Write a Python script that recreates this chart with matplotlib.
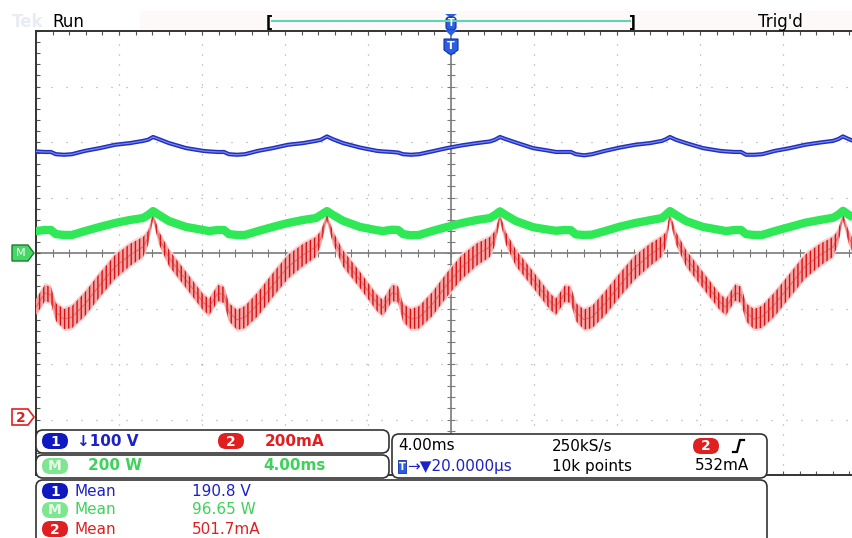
import numpy as np
import matplotlib
matplotlib.use("Agg")
import matplotlib.pyplot as plt
from matplotlib.patches import FancyBboxPatch, Polygon, Rectangle

# time axis, ms (4 ms/div, trigger at center)
t_ms = [
    -20.29, -20.00, -19.57, -19.28, -19.04, -18.65, -18.27, -17.64, -16.92, -16.19, -15.47, -14.84, -14.60,
    -14.36, -14.07, -13.59, -12.77, -11.95, -11.66, -11.23, -10.94, -10.70, -10.31, -9.93, -9.30, -8.58, -7.86, -7.13, -6.51, -6.27,
    -5.98, -5.69, -5.20, -4.39, -3.57, -3.28, -2.84, -2.55, -2.31, -1.93, -1.54, -0.92, -0.19, 0.53, 1.25, 1.88, 2.12,
    2.36, 2.65, 3.13, 3.95, 4.77, 5.06, 5.49, 5.78, 6.02, 6.41, 6.80, 7.42, 8.14, 8.87, 9.59, 10.17, 10.36,
    10.55, 10.84, 11.33, 12.14, 12.96, 13.25, 13.69, 13.98, 14.22, 14.60, 14.99, 15.61, 16.34, 17.06, 17.78, 18.41, 18.65,
    18.89, 19.18, 19.66, 20.48,
]

# ch1 voltage (V), 100 V/div
ch1_V = [
    184, 183, 182, 182, 178, 177, 178, 184, 189, 195, 198, 202, 204,
    209, 205, 198, 189, 184, 183, 182, 182, 178, 177, 178, 184, 189, 195, 198, 202, 204,
    210, 205, 198, 190, 184, 183, 182, 181, 178, 177, 178, 183, 189, 194, 198, 201, 204,
    209, 205, 199, 189, 184, 182, 182, 182, 178, 176, 178, 184, 190, 195, 198, 202, 205,
    209, 204, 198, 189, 184, 183, 182, 182, 177, 177, 178, 184, 189, 195, 199, 202, 205,
    210, 205, 198, 190,
]

# ch2 current (mA), 200 mA/div, ground 2.95 div below center
ch2_mA = [
    413, 395, 446, 439, 377, 352, 359, 406, 475, 540, 583, 612, 644,
    722, 644, 572, 493, 413, 395, 446, 439, 377, 349, 359, 406, 475, 540, 583, 612, 644,
    720, 646, 570, 493, 410, 392, 446, 441, 374, 352, 358, 404, 476, 540, 585, 612, 644,
    718, 642, 572, 495, 415, 397, 444, 439, 377, 350, 359, 408, 475, 538, 583, 614, 640,
    721, 644, 571, 492, 413, 395, 447, 440, 376, 352, 360, 406, 474, 541, 583, 612, 646,
    720, 644, 572, 493,
]
# ripple band half height (mA)
ch2_ripple = [
    29, 29, 29, 29, 32, 36, 40, 43, 43, 43, 40, 36, 25,
    11, 22, 29, 29, 29, 29, 29, 29, 32, 36, 40, 43, 43, 43, 40, 36, 25,
    11, 22, 29, 29, 29, 29, 29, 29, 32, 36, 40, 43, 43, 43, 40, 36, 25,
    11, 22, 29, 29, 29, 29, 29, 29, 32, 36, 40, 43, 43, 43, 40, 36, 25,
    11, 22, 29, 29, 29, 29, 29, 29, 32, 36, 40, 43, 43, 43, 40, 36, 25,
    11, 22, 29, 29,
]

# math (power, W), 200 W/div
math_W = [
    83, 79, 83, 83, 68, 65, 65, 79, 94, 108, 119, 126, 137,
    151, 137, 115, 94, 83, 79, 83, 83, 68, 65, 65, 79, 94, 108, 119, 126, 137,
    151, 137, 116, 94, 82, 79, 84, 83, 68, 64, 65, 79, 94, 108, 119, 126, 137,
    150, 136, 115, 93, 83, 80, 83, 82, 67, 65, 66, 79, 95, 108, 118, 126, 138,
    151, 137, 115, 94, 83, 79, 83, 83, 68, 65, 65, 79, 94, 109, 119, 127, 137,
    152, 137, 115, 94,
]

t = np.array(t_ms)
blue = np.array(ch1_V) / 100.0
red = np.array(ch2_mA) / 200.0 - 2.95
red_hw = np.array(ch2_ripple) / 200.0
green = np.array(math_W) / 200.0

W, H = 852, 538
fig = plt.figure(figsize=(W / 100, H / 100), dpi=100)
fig.patch.set_facecolor("white")

# graticule axes: 10 x 8 divisions, right part is cut off by the picture edge
ax = fig.add_axes([36 / W, (H - 475) / H, 830 / W, 444 / H])
ax.set_xlim(-20, 20)
ax.set_ylim(-4, 4)
ax.set_facecolor("white")

for xv in np.arange(-16, 17, 4):
    if xv != 0:
        ax.axvline(xv, color="#9a9a9a", lw=0.9, ls=(0, (0.8, 7.2)), zorder=1)
for yv in range(-3, 4):
    if yv != 0:
        ax.axhline(yv, color="#9a9a9a", lw=0.9, ls=(0, (0.8, 11.2)), zorder=1)
ax.axhline(0, color="#7a7a7a", lw=1.2, zorder=1)
ax.axvline(0, color="#7a7a7a", lw=1.2, zorder=1)
ax.plot(np.arange(-20, 20.1, 0.8), np.zeros(51), ls="none", marker="|", ms=6, mew=0.8, color="#7a7a7a", zorder=1)
ax.plot(np.zeros(41), np.arange(-4, 4.01, 0.2), ls="none", marker="_", ms=6, mew=0.8, color="#7a7a7a", zorder=1)

ax.set_xticks(np.arange(-20, 20.1, 0.8))
ax.set_yticks(np.arange(-4, 4.01, 0.2))
ax.tick_params(direction="in", length=3, width=0.8, color="#555555",
               top=True, bottom=True, left=True, right=False,
               labelbottom=False, labelleft=False)
for s in ["top", "left", "bottom"]:
    ax.spines[s].set_color("#333333")
    ax.spines[s].set_linewidth(1.4)
ax.spines["right"].set_visible(False)

# traces
plt.rcParams["hatch.linewidth"] = 1.0
ax.fill_between(t, red - red_hw - 0.04, red + red_hw + 0.04, facecolor="#fbd8d8",
                edgecolor="none", zorder=2)
ax.fill_between(t, red - red_hw, red + red_hw, facecolor="#f4a6a6", edgecolor="#d41010",
                hatch="||||", linewidth=0, zorder=3)
ax.plot(t, red, color="#e03030", lw=0.8, alpha=0.5, zorder=3)
ax.plot(t, green, color="#2ee855", lw=6, solid_capstyle="butt", zorder=4)
ax.plot(t, blue, color="#1f2fc0", lw=3.0, zorder=5)
ax.plot(t, blue, color="#7b88ea", lw=0.9, zorder=5)

# overlay in pixel coordinates for scope annotations
ov = fig.add_axes([0, 0, 1, 1], zorder=10)
ov.set_xlim(0, W)
ov.set_ylim(H, 0)
ov.axis("off")
ov.patch.set_alpha(0)

BLUE = "#1c22c8"
GREEN = "#3ed25a"
RED = "#e02020"
FS = 11

# top bar
ov.add_patch(Rectangle((140, 11), 712, 19, facecolor="#fdf9f9", edgecolor="none"))
ov.text(12, 22, "Tek", fontsize=12, color="#e8ecf4", va="center", fontweight="bold")
ov.text(52, 22, "Run", fontsize=12, color="black", va="center")
ov.text(758, 22, "Trig'd", fontsize=12, color="black", va="center")
ov.plot([272, 630], [21, 21], color="#5fd3b3", lw=1.5)
ov.text(269, 22, "[", fontsize=11, color="black", va="center", ha="center", fontweight="bold")
ov.text(632, 22, "]", fontsize=11, color="black", va="center", ha="center", fontweight="bold")
ov.add_patch(Polygon([(445, 14), (457, 14), (451, 18)], closed=True, facecolor="#2c5fe0", edgecolor="none"))
ov.add_patch(FancyBboxPatch((446, 17), 10, 13, boxstyle="round,pad=0,rounding_size=3",
                            facecolor="#2c5fe0", edgecolor="#1030a0", lw=0.8))
ov.text(451, 23.5, "T", fontsize=7, color="white", ha="center", va="center", fontweight="bold")
ov.add_patch(Polygon([(445, 30), (457, 30), (451, 36)], closed=True, facecolor="#2c5fe0", edgecolor="none"))
ov.add_patch(Polygon([(444, 39), (458, 39), (458, 50), (451, 55), (444, 50)], closed=True,
                     facecolor="#2c5fe0", edgecolor="#1030a0", lw=0.8))
ov.text(451, 46, "T", fontsize=8, color="white", ha="center", va="center", fontweight="bold")

# left markers
ov.add_patch(Polygon([(12, 245), (28, 245), (34, 253), (28, 261), (12, 261)], closed=True,
                     facecolor="#45d865", edgecolor="#1f7a30", lw=1))
ov.text(21, 253.5, "M", fontsize=8, color="white", ha="center", va="center")
ov.add_patch(Polygon([(12, 409), (28, 409), (34, 417), (28, 425), (12, 425)], closed=True,
                     facecolor="white", edgecolor=RED, lw=1.2))
ov.text(21, 417.5, "2", fontsize=10, color=RED, ha="center", va="center", fontweight="bold")


def box(x0, y0, x1, y1):
    ov.add_patch(FancyBboxPatch((x0, y0), x1 - x0, y1 - y0, boxstyle="round,pad=0,rounding_size=7",
                                facecolor="white", edgecolor="#333333", lw=1.2))


def pill(xc, yc, label, face, tcolor="white"):
    ov.add_patch(FancyBboxPatch((xc - 13, yc - 8), 26, 16, boxstyle="round,pad=0,rounding_size=8",
                                facecolor=face, edgecolor="none"))
    ov.text(xc, yc + 0.5, label, fontsize=10, color=tcolor, ha="center", va="center", fontweight="bold")


# info boxes
box(36, 430, 389, 453)
box(36, 455, 389, 478)
box(392, 434, 767, 478)
box(36, 480, 767, 560)

pill(55, 441, "1", "#1018c0")
ov.text(77, 441, "↓100 V", fontsize=FS, color=BLUE, va="center", fontweight="bold")
pill(231, 441, "2", RED)
ov.text(265, 441, "200mA", fontsize=FS, color=RED, va="center", fontweight="bold")

pill(55, 466, "M", "#7ee690", "#e8ffe8")
ov.text(88, 466, "200 W", fontsize=FS, color=GREEN, va="center", fontweight="bold")
ov.text(263, 466, "4.00ms", fontsize=FS, color=GREEN, va="center", fontweight="bold")

ov.text(398, 446, "4.00ms", fontsize=FS, color="black", va="center")
ov.text(552, 446, "250kS/s", fontsize=FS, color="black", va="center")
pill(706, 446, "2", RED)
ov.plot([733, 737, 740, 744], [452, 452, 440, 440], color="black", lw=1.6)
ov.add_patch(Rectangle((398, 460), 8, 13, facecolor="#2c5fe0", edgecolor="#1030a0", lw=0.6))
ov.text(402, 466.5, "T", fontsize=7, color="white", ha="center", va="center", fontweight="bold")
ov.text(407, 466, "→▼20.0000µs", fontsize=FS, color=BLUE, va="center")
ov.text(552, 466, "10k points", fontsize=FS, color="black", va="center")
ov.text(695, 466, "532mA", fontsize=FS, color="black", va="center")

pill(55, 491, "1", "#1018c0")
ov.text(75, 491, "Mean", fontsize=FS, color=BLUE, va="center")
ov.text(192, 491, "190.8 V", fontsize=FS, color=BLUE, va="center")
pill(55, 510, "M", "#7ee690", "#e8ffe8")
ov.text(75, 510, "Mean", fontsize=FS, color=GREEN, va="center")
ov.text(192, 510, "96.65 W", fontsize=FS, color=GREEN, va="center")
pill(55, 529, "2", RED)
ov.text(75, 529, "Mean", fontsize=FS, color=RED, va="center")
ov.text(192, 529, "501.7mA", fontsize=FS, color=RED, va="center")

fig.savefig("out.png", dpi=100)
